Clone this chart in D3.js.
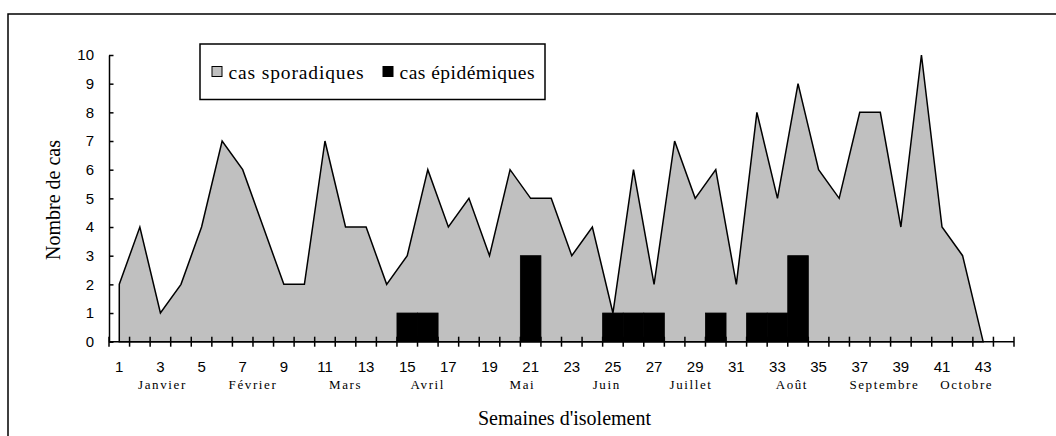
<!DOCTYPE html>
<html>
<head>
<meta charset="utf-8">
<script src="https://cdn.jsdelivr.net/npm/d3@7"></script>
<style>
  body { margin: 0; background: white; }
  svg { display: block; }
</style>
</head>
<body>
<div id="chart"></div>
<script>
const width = 1056;
const height = 436;

// weeks 1..44 on the axis
const weeks = d3.range(1, 45);
const sporadic = [2, 4, 1, 2, 4, 7, 6, 4, 2, 2, 7, 4, 4, 2, 3, 6, 4, 5, 3, 6, 5, 5, 3, 4, 1, 6, 2, 7, 5, 6, 2, 8, 5, 9, 6, 5, 8, 8, 4, 10, 4, 3, 0];
const epidemic = [0, 0, 0, 0, 0, 0, 0, 0, 0, 0, 0, 0, 0, 0, 1, 1, 0, 0, 0, 0, 3, 0, 0, 0, 1, 1, 1, 0, 0, 1, 0, 1, 1, 3, 0, 0, 0, 0, 0, 0, 0, 0, 0, 0];
const yTicks = d3.range(0, 11);
const xTickLabels = d3.range(1, 44, 2);
const months = ["Janvier", "Février", "Mars", "Avril", "Mai", "Juin", "Juillet", "Août", "Septembre", "Octobre"];
const monthWeeks = [3.1, 7.5, 12, 16, 20.6, 24.7, 28.8, 33.7, 38.2, 42.2];
const legendItems = ["cas sporadiques", "cas épidémiques"];

const serif = "'Liberation Serif', 'Times New Roman', serif";
const sans = "'Liberation Sans', Arial, sans-serif";

let svg = d3.select("#chart")
  .append("svg")
  .attr("width", width)
  .attr("height", height)
  .attr("viewBox", [0, 0, width, height]);

// outer frame (runs off the right and bottom edges)
svg.append("path")
  .attr("d", "M8,450 V14 H1070")
  .attr("fill", "none")
  .attr("stroke", "black")
  .attr("stroke-width", 1.5);

let x = d3.scaleBand()
  .domain(weeks)
  .range([109, 1014])
  .padding(0);
let bw = x.bandwidth();
let y = d3.scaleLinear()
  .domain([0, 10])
  .range([341.7, 55]);

const cx = w => x(1) + bw / 2 + (w - 1) * bw;

// sporadic cases: area with black outline
let area = d3.area()
  .x((d, i) => cx(weeks[i]))
  .y0(y(0))
  .y1(d => y(d));

svg.append("path")
  .datum(sporadic)
  .attr("d", area)
  .attr("fill", "#c0c0c0")
  .attr("stroke", "black")
  .attr("stroke-width", 1.5)
  .attr("stroke-linejoin", "miter");

// epidemic cases: black bars
svg.append("g")
  .selectAll("rect")
  .data(weeks.filter((w, i) => epidemic[i] > 0))
  .join("rect")
    .attr("x", w => x(w))
    .attr("width", bw)
    .attr("y", w => y(epidemic[w - 1]))
    .attr("height", w => y(0) - y(epidemic[w - 1]))
    .attr("fill", "black")
    .attr("stroke", "black")
    .attr("stroke-width", 0.8);

// y axis
let yAxis = svg.append("g")
  .attr("transform", `translate(${x.range()[0]},0)`)
  .call(d3.axisLeft(y).tickValues(yTicks).tickSize(5).tickSizeOuter(0));
yAxis.select(".domain").attr("stroke-width", 1.5);
yAxis.selectAll(".tick line").attr("stroke-width", 1.5).attr("x2", 4.5);
yAxis.selectAll(".tick text")
  .attr("x", -15)
  .attr("font-family", sans)
  .attr("font-size", 15)
  .attr("fill", "black");

// x axis: ticks sit between the weeks
let xAxis = svg.append("g")
  .attr("transform", `translate(0,${y(0)})`);
xAxis.append("line")
  .attr("x1", x.range()[0])
  .attr("x2", x.range()[1])
  .attr("stroke", "black")
  .attr("stroke-width", 1.5);
xAxis.selectAll(".xt")
  .data(weeks.concat([45]))
  .join("line")
    .attr("class", "xt")
    .attr("x1", w => x.range()[0] + (w - 1) * bw)
    .attr("x2", w => x.range()[0] + (w - 1) * bw)
    .attr("y1", -5)
    .attr("y2", 5)
    .attr("stroke", "black")
    .attr("stroke-width", 1.5);
xAxis.selectAll(".xl")
  .data(xTickLabels)
  .join("text")
    .attr("class", "xl")
    .attr("x", w => cx(w))
    .attr("y", 30)
    .attr("text-anchor", "middle")
    .attr("font-family", sans)
    .attr("font-size", 15)
    .text(w => w);

// month names under the week numbers
svg.append("g")
  .selectAll("text")
  .data(months)
  .join("text")
    .attr("x", (d, i) => cx(monthWeeks[i]))
    .attr("y", 389)
    .attr("text-anchor", "middle")
    .attr("font-family", serif)
    .attr("font-size", 13)
    .attr("letter-spacing", 1.6)
    .text(d => d);

// axis titles
svg.append("text")
  .attr("transform", "translate(60,200) rotate(-90)")
  .attr("text-anchor", "middle")
  .attr("font-family", serif)
  .attr("font-size", 20)
  .text("Nombre de cas");

svg.append("text")
  .attr("x", 564.5)
  .attr("y", 425)
  .attr("text-anchor", "middle")
  .attr("font-family", serif)
  .attr("font-size", 20)
  .text("Semaines d'isolement");

// legend
let legend = svg.append("g");
legend.append("rect")
  .attr("x", 200)
  .attr("y", 44)
  .attr("width", 345)
  .attr("height", 55.5)
  .attr("fill", "white")
  .attr("stroke", "black")
  .attr("stroke-width", 1.5);

const legendFill = ["#c0c0c0", "black"];
const legendX = [212, 383];
legend.selectAll("rect.key")
  .data(legendItems)
  .join("rect")
    .attr("class", "key")
    .attr("x", (d, i) => legendX[i])
    .attr("y", 66.5)
    .attr("width", 10)
    .attr("height", 10)
    .attr("fill", (d, i) => legendFill[i])
    .attr("stroke", "black")
    .attr("stroke-width", 1);
legend.selectAll("text")
  .data(legendItems)
  .join("text")
    .attr("x", (d, i) => legendX[i] + 16.5)
    .attr("y", 78.7)
    .attr("font-family", serif)
    .attr("font-size", 19.5)
    .attr("textLength", 135)
    .attr("lengthAdjust", "spacing")
    .text(d => d);
</script>
</body>
</html>
